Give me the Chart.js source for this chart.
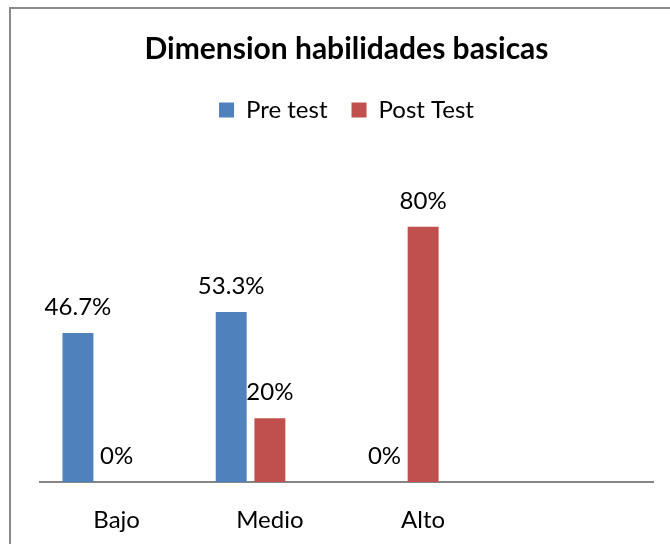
<!DOCTYPE html>
<html>
<head>
<meta charset="utf-8">
<script src="https://cdn.jsdelivr.net/npm/chart.js@4"></script>
<style>
  html, body { margin: 0; padding: 0; background: #fff; overflow: hidden; }
  #wrap { position: relative; width: 670px; height: 544px; }
  #frame { position: absolute; left: 9px; top: 7px; width: 700px; height: 600px;
           border-left: 2px solid #8a8a8a; border-top: 2px solid #8a8a8a; pointer-events: none; }
  canvas { position: absolute; left: 0; top: 0; }
</style>
</head>
<body>
<div id="wrap">
  <canvas id="chart" width="670" height="544"></canvas>
  <div id="frame"></div>
</div>
<script>
// chart data
const categories = ['Bajo', 'Medio', 'Alto', ''];
const preTest = [46.7, 53.3, 0, null];
const postTest = [0, 20, 80, null];
const spareSeries = [null, null, null, null];

// value labels on top of each bar
const barLabels = {
    id: 'barLabels',
    afterDatasetsDraw(chart) {
        const ctx = chart.ctx;
        ctx.save();
        ctx.font = '24px Lato';
        ctx.fillStyle = '#000';
        ctx.textAlign = 'center';
        ctx.textBaseline = 'alphabetic';
        [0, 1].forEach(di => {
            const meta = chart.getDatasetMeta(di);
            meta.data.forEach((bar, i) => {
                const v = chart.data.datasets[di].data[i];
                if (v === null || v === undefined) return;
                ctx.fillText(v + '%', bar.x, bar.y - 18);
            });
        });
        ctx.restore();
    }
};

// extra room under the legend
const legendSpacer = {
    id: 'legendSpacer',
    beforeInit(chart) {
        const fit = chart.legend.fit;
        chart.legend.fit = function () {
            fit.call(this);
            this.height += 31;
        };
    }
};

new Chart(document.getElementById('chart').getContext('2d'), {
    type: 'bar',
    data: {
        labels: categories,
        datasets: [
            { label: 'Pre test', data: preTest, backgroundColor: '#4F81BD' },
            { label: 'Post Test', data: postTest, backgroundColor: '#C0504D' },
            { label: '', data: spareSeries, backgroundColor: '#9BBB59' }
        ]
    },
    options: {
        responsive: false,
        animation: false,
        layout: { padding: { left: 40, right: 17, top: 0, bottom: 0 } },
        datasets: {
            bar: { categoryPercentage: 0.757, barPercentage: 0.8 }
        },
        scales: {
            x: {
                grid: { display: false, drawTicks: false },
                border: { display: true, color: '#868686', width: 2 },
                ticks: { color: '#000', font: { family: 'Lato', size: 24 }, padding: 24 },
                afterFit(scale) { scale.height = 62; }
            },
            y: {
                display: false,
                min: 0,
                max: 100
            }
        },
        plugins: {
            title: {
                display: true,
                text: 'Dimension habilidades basicas',
                color: '#000',
                font: { family: 'Lato', size: 30, weight: 'bold' },
                padding: { top: 31, bottom: 7 }
            },
            legend: {
                display: true,
                position: 'top',
                labels: {
                    color: '#000',
                    font: { family: 'Lato', size: 24 },
                    boxWidth: 15,
                    boxHeight: 15,
                    padding: 24,
                    filter: item => item.text !== ''
                }
            },
            tooltip: { enabled: false }
        }
    },
    plugins: [barLabels, legendSpacer]
});
</script>
</body>
</html>
